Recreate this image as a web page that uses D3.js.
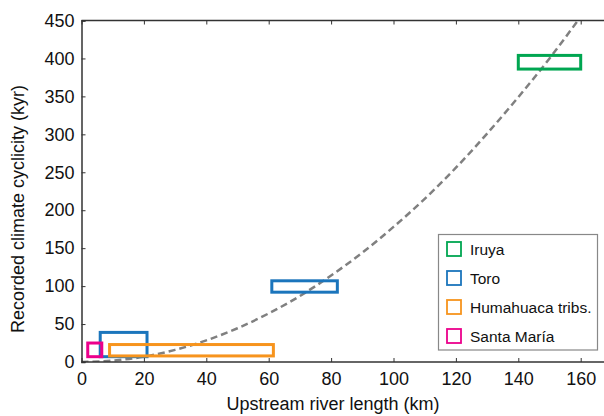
<!DOCTYPE html>
<html lang="en">
<head>
<meta charset="UTF-8">
<title>Climate cyclicity vs river length</title>
<script src="https://cdn.jsdelivr.net/npm/d3@7"></script>
<style>
    body { margin: 0; background: #fff; }
    svg { display: block; font-family: "Liberation Sans", Arial, sans-serif; }
</style>
</head>
<body>
<svg id="chart" width="604" height="416"></svg>
<script>
// boxes (one entry per rectangle)
const boxSeries = ["Iruya", "Toro", "Toro", "Humahuaca tribs.", "Santa María"];
const boxX0 = [140, 6, 61, 9, 2];
const boxX1 = [160, 21, 82, 61.5, 6.5];
const boxY0 = [386, 7, 92, 8, 7];
const boxY1 = [404, 39, 107, 23, 25];

// legend entries
const legendNames = ["Iruya", "Toro", "Humahuaca tribs.", "Santa María"];
const legendColors = ["#00a651", "#1b75bc", "#f7941d", "#ec008c"];

// dashed trend line
const trendX = [0, 10, 20, 30, 40, 50, 60, 70, 80, 90, 100, 110, 120, 130, 140, 150, 160];
const trendY = [0, 1.8, 7, 16, 28.5, 44.5, 64, 87, 114, 144, 178, 215, 256, 301, 349, 400, 455];

const xTicks = [0, 20, 40, 60, 80, 100, 120, 140, 160];
const yTicks = [0, 50, 100, 150, 200, 250, 300, 350, 400, 450];

const svg = d3.select("#chart");
const mLeft = 81.5, mTop = 20.5, mBottom = 362;
const x = d3.scaleLinear().domain([0, 170]).range([mLeft, mLeft + 3.12 * 170]);
const y = d3.scaleLinear().domain([0, 450]).range([mBottom, mTop]);
const color = d3.scaleOrdinal().domain(legendNames).range(legendColors);

svg.append("clipPath").attr("id", "clip")
    .append("rect").attr("x", mLeft).attr("y", mTop).attr("width", 604 - mLeft).attr("height", mBottom - mTop);

// trend line
const line = d3.line().x(d => x(d[0])).y(d => y(d[1])).curve(d3.curveMonotoneX);
svg.append("path")
    .datum(trendX.map((v, i) => [v, trendY[i]]))
    .attr("clip-path", "url(#clip)")
    .attr("d", line)
    .attr("fill", "none")
    .attr("stroke", "#808080")
    .attr("stroke-width", 2.5)
    .attr("stroke-dasharray", "7,4");

// boxes
svg.selectAll(".box")
    .data(boxSeries)
    .enter()
    .append("rect")
    .attr("class", "box")
    .attr("x", (d, i) => x(boxX0[i]))
    .attr("y", (d, i) => y(boxY1[i]))
    .attr("width", (d, i) => x(boxX1[i]) - x(boxX0[i]))
    .attr("height", (d, i) => y(boxY0[i]) - y(boxY1[i]))
    .attr("fill", "none")
    .attr("stroke", d => color(d))
    .attr("stroke-width", 3);

// axes
const axisColor = "#333";
const bottomAxis = svg.append("g").attr("transform", `translate(0,${mBottom})`)
    .call(d3.axisBottom(x).tickValues(xTicks).tickSize(-4).tickPadding(10));
const topAxis = svg.append("g").attr("transform", `translate(0,${mTop})`)
    .call(d3.axisTop(x).tickValues(xTicks).tickSize(-4).tickFormat(""));
const leftAxis = svg.append("g").attr("transform", `translate(${mLeft},0)`)
    .call(d3.axisLeft(y).tickValues(yTicks).tickSize(-4).tickPadding(7));

[bottomAxis, topAxis, leftAxis].forEach(g => {
    g.select(".domain").attr("stroke", axisColor).attr("stroke-width", 1.5);
    g.selectAll(".tick line").attr("stroke", axisColor);
    g.selectAll("text").attr("font-size", 18).attr("fill", "#111")
        .attr("font-family", "'Liberation Sans', Arial, sans-serif");
});
bottomAxis.select(".domain").attr("d", `M${mLeft},0H604`);
topAxis.select(".domain").attr("d", `M${mLeft},0H604`);

// axis titles
svg.append("text")
    .attr("x", 333).attr("y", 410)
    .attr("text-anchor", "middle")
    .attr("font-size", 18).attr("fill", "#111")
    .text("Upstream river length (km)");
svg.append("text")
    .attr("transform", "translate(24,209) rotate(-90)")
    .attr("text-anchor", "middle")
    .attr("font-size", 18).attr("fill", "#111")
    .text("Recorded climate cyclicity (kyr)");

// legend
const lg = svg.append("g");
lg.append("rect")
    .attr("x", 438.5).attr("y", 234.5).attr("width", 159).attr("height", 115.5)
    .attr("fill", "#fff").attr("stroke", "#888").attr("stroke-width", 1.2);
const items = lg.selectAll(".item").data(legendNames).enter().append("g")
    .attr("transform", (d, i) => `translate(0,${249 + i * 29})`);
items.append("rect")
    .attr("x", 447).attr("y", -7).attr("width", 14).attr("height", 14)
    .attr("fill", "none").attr("stroke", d => color(d)).attr("stroke-width", 1.8);
items.append("text")
    .attr("x", 470).attr("y", 5.5)
    .attr("font-size", 15.5).attr("fill", "#111")
    .text(d => d);
</script>
</body>
</html>
